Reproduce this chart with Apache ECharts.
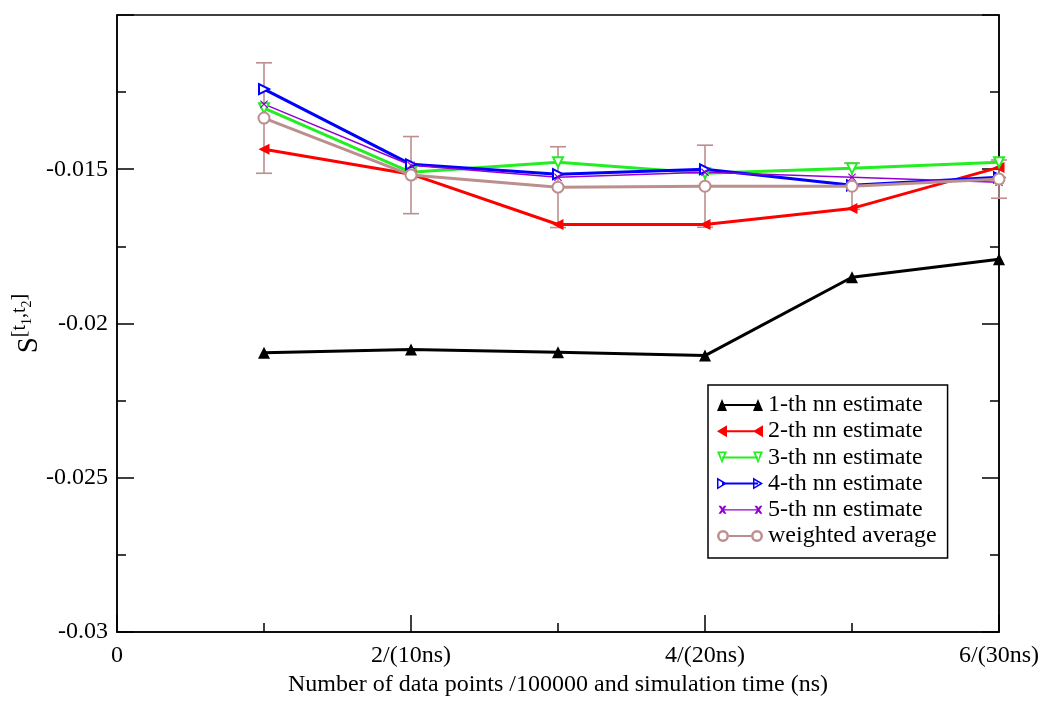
<!DOCTYPE html>
<html>
<head>
<meta charset="utf-8">
<script src="https://cdn.jsdelivr.net/npm/echarts@6/dist/echarts.min.js"></script>
<style>
html,body{margin:0;padding:0;background:#fff;}
#chart{width:1050px;height:708px;}
</style>
</head>
<body>
<div id="chart"></div>
<script>
// ---- data ----
const xs = [1, 2, 3, 4, 5, 6];
const nn1 = [-0.02095, -0.02084, -0.02093, -0.02104, -0.0185, -0.01792];
const nn2 = [-0.01435, -0.01516, -0.01679, -0.01679, -0.01627, -0.01494];
const nn3 = [-0.01302, -0.0151, -0.01477, -0.01513, -0.01497, -0.01477];
const nn4 = [-0.0124, -0.01484, -0.01516, -0.0150, -0.01552, -0.01526];
const nn5 = [-0.01289, -0.01487, -0.01526, -0.0151, -0.01526, -0.01542];
const avg = [-0.01334, -0.01519, -0.01558, -0.01555, -0.01555, -0.01532];
const avgErr = [0.00179, 0.00125, 0.00131, 0.00133, 0.00075, 0.00062];
const seriesNames = ['1-th nn estimate', '2-th nn estimate', '3-th nn estimate', '4-th nn estimate', '5-th nn estimate', 'weighted average'];
const xTickValues = [0, 2, 4, 6];
const xTickLabels = ['0', '2/(10ns)', '4/(20ns)', '6/(30ns)'];
const yTickValues = [-0.03, -0.025, -0.02, -0.015, -0.01];
const yTickLabels = ['-0.03', '-0.025', '-0.02', '-0.015', ''];
const xTitle = 'Number of data points /100000 and simulation time (ns)';

const FONT = "'Liberation Serif','Times New Roman',serif";
const pairs = a => xs.map((x, i) => [x, a[i]]);

// legend icons (46 x 12 boxes)
const LINE = 'M5,5 L41,5 L41,7 L5,7 Z';
const THIN = 'M5,5.4 L41,5.4 L41,6.6 L5,6.6 Z';
const icons = [
  'path://M0,12 L5,0 L10,12 Z ' + LINE + ' M36,12 L41,0 L46,12 Z',
  'path://M0,6 L10,0 L10,12 Z ' + LINE + ' M36,6 L46,0 L46,12 Z',
  'path://M0,0 L10,0 L5,12 Z M2.8,1.5 L5,8.5 L7.2,1.5 Z ' + LINE + ' M36,0 L46,0 L41,12 Z M38.8,1.5 L41,8.5 L43.2,1.5 Z',
  'path://M0,0 L10,6 L0,12 Z M1.5,2.7 L1.5,9.3 L7,6 Z ' + LINE + ' M36,0 L46,6 L36,12 Z M37.5,2.7 L37.5,9.3 L43,6 Z',
  'path://M1,2 L3.5,2 L9,10 L6.5,10 Z M6.5,2 L9,2 L3.5,10 L1,10 Z M0,0 L0.1,0 L0.1,0.1 Z M0,12 L0.1,12 L0.1,11.9 Z ' + THIN + ' M37,2 L39.5,2 L45,10 L42.5,10 Z M42.5,2 L45,2 L39.5,10 L37,10 Z',
  'path://M0,6 A6,6 0 1,1 12,6 A6,6 0 1,1 0,6 Z M2.5,6 A3.5,3.5 0 1,0 9.5,6 A3.5,3.5 0 1,0 2.5,6 Z M12,5 L34,5 L34,7 L12,7 Z M34,6 A6,6 0 1,1 46,6 A6,6 0 1,1 34,6 Z M36.5,6 A3.5,3.5 0 1,0 43.5,6 A3.5,3.5 0 1,0 36.5,6 Z'
];

const XMARK = 'path://M0,1 L1,0 L5,4 L9,0 L10,1 L6,5 L10,9 L9,10 L5,6 L1,10 L0,9 L4,5 Z';

const colors = ['#000000', '#ff0000', '#22ee22', '#0000ff', '#9400d3', '#bc8f8f'];

const chart = echarts.init(document.getElementById('chart'), null, {renderer: 'canvas'});

const yAxisBase = {
  type: 'value', min: -0.03, max: -0.01, interval: 0.005,
  axisLine: {show: true, lineStyle: {color: '#000', width: 1.5}},
  axisTick: {show: true, inside: true, length: 17, lineStyle: {color: '#000', width: 1.5}},
  minorTick: {show: true, splitNumber: 2, length: 9, lineStyle: {color: '#000', width: 1.5}},
  splitLine: {show: false}, minorSplitLine: {show: false}
};

const option = {
  animation: false,
  backgroundColor: '#fff',
  textStyle: {fontFamily: FONT},
  grid: {left: 117, right: 51, top: 15, bottom: 76, show: true, borderColor: '#000', borderWidth: 1.5,
         containLabel: false, outerBoundsMode: 'none'},
  xAxis: {
    type: 'value', min: 0, max: 6, interval: 2,
    axisLine: {show: true, lineStyle: {color: '#000', width: 1.5}},
    axisTick: {show: true, inside: true, length: 17, lineStyle: {color: '#000', width: 1.5}},
    minorTick: {show: true, splitNumber: 2, length: 9, lineStyle: {color: '#000', width: 1.5}},
    splitLine: {show: false}, minorSplitLine: {show: false},
    axisLabel: {
      color: '#000', fontFamily: FONT, fontSize: 24, margin: 12,
      formatter: v => { const i = xTickValues.indexOf(Math.round(v)); return i >= 0 ? xTickLabels[i] : ''; }
    },
    name: xTitle, nameLocation: 'middle', nameGap: 38,
    nameTextStyle: {color: '#000', fontFamily: FONT, fontSize: 24}
  },
  yAxis: [
    Object.assign({}, yAxisBase, {
      position: 'left',
      axisLabel: {
        color: '#000', fontFamily: FONT, fontSize: 24, margin: 9,
        formatter: v => { const i = Math.round((v - yTickValues[0]) / 0.005); return yTickLabels[i] || ''; }
      },
      name: '{s|S}{u|[t}{d|1}{u|,t}{d|2}{u|]}',
      nameLocation: 'middle', nameRotate: 90, nameGap: 73, nameMoveOverlap: false,
      nameTextStyle: {
        color: '#000', fontFamily: FONT,
        rich: {
          s: {fontSize: 29, fontFamily: FONT, color: '#000', verticalAlign: 'bottom', lineHeight: 34},
          u: {fontSize: 20, fontFamily: FONT, color: '#000', verticalAlign: 'top', lineHeight: 34},
          d: {fontSize: 14, fontFamily: FONT, color: '#000', verticalAlign: 'middle', lineHeight: 34}
        }
      }
    }),
    Object.assign({}, yAxisBase, {position: 'right', axisLabel: {show: false}})
  ],
  legend: {
    orient: 'vertical', left: 708, top: 385,
    padding: [8, 11, 10, 9],
    borderColor: '#000', borderWidth: 1.5, borderRadius: 0,
    itemWidth: 46, itemHeight: 12, itemGap: 2.2,
    textStyle: {color: '#000', fontFamily: FONT, fontSize: 24, lineHeight: 24},
    data: seriesNames.map((n, i) => ({name: n, icon: icons[i]}))
  },
  series: [
    {
      name: 'errorbars', type: 'custom', z: 1,
      data: xs.map((x, i) => [x, avg[i] - avgErr[i], avg[i] + avgErr[i]]),
      encode: {x: 0, y: [1, 2]},
      renderItem: (params, api) => {
        const x = api.value(0);
        const lo = api.coord([x, api.value(1)]);
        const hi = api.coord([x, api.value(2)]);
        const w = 8;
        const st = {stroke: '#bc8f8f', lineWidth: 1.6};
        return {type: 'group', children: [
          {type: 'line', shape: {x1: lo[0], y1: lo[1], x2: hi[0], y2: hi[1]}, style: st},
          {type: 'line', shape: {x1: lo[0] - w, y1: lo[1], x2: lo[0] + w, y2: lo[1]}, style: st},
          {type: 'line', shape: {x1: hi[0] - w, y1: hi[1], x2: hi[0] + w, y2: hi[1]}, style: st}
        ]};
      },
      silent: true
    },
    {name: seriesNames[0], type: 'line', z: 3, data: pairs(nn1), color: colors[0],
     lineStyle: {width: 3, color: colors[0]}, symbol: 'triangle', symbolSize: 12,
     itemStyle: {color: colors[0]}},
    {name: seriesNames[1], type: 'line', z: 3, data: pairs(nn2), color: colors[1],
     lineStyle: {width: 3, color: colors[1]}, symbol: 'triangle', symbolRotate: 90, symbolSize: 11,
     itemStyle: {color: colors[1]}},
    {name: seriesNames[2], type: 'line', z: 3, data: pairs(nn3), color: colors[2],
     lineStyle: {width: 3, color: colors[2]}, symbol: 'emptyTriangle', symbolRotate: 180, symbolSize: 10,
     itemStyle: {color: colors[2], borderWidth: 1.5}},
    {name: seriesNames[3], type: 'line', z: 3, data: pairs(nn4), color: colors[3],
     lineStyle: {width: 3, color: colors[3]}, symbol: 'emptyTriangle', symbolRotate: -90, symbolSize: 10,
     itemStyle: {color: colors[3], borderWidth: 1.5}},
    {name: seriesNames[4], type: 'line', z: 3, data: pairs(nn5), color: colors[4],
     lineStyle: {width: 1.5, color: colors[4]}, symbol: XMARK, symbolSize: 8,
     itemStyle: {color: colors[4]}},
    {name: seriesNames[5], type: 'line', z: 3, data: pairs(avg), color: colors[5],
     lineStyle: {width: 3, color: colors[5]}, symbol: 'emptyCircle', symbolSize: 11,
     itemStyle: {color: colors[5], borderWidth: 2.5}}
  ]
};
chart.setOption(option);
</script>
</body>
</html>
